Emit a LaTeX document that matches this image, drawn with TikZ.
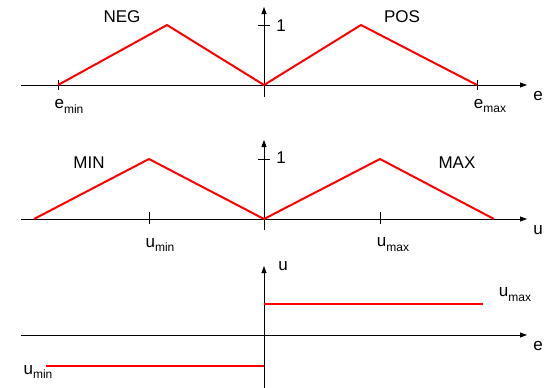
\documentclass[tikz,border=0pt]{standalone}
\usepackage{fontspec}
\setmainfont{Liberation Sans}
\usetikzlibrary{arrows.meta}
\newcommand{\lowsub}[1]{\raisebox{-0.55ex}{\fontsize{12}{12}\selectfont #1}}

\begin{document}
\begin{tikzpicture}[x=1pt, y=-1pt,
        ax/.style={line width=0.8pt, -{Triangle[length=7pt, width=5pt]}},
        tk/.style={line width=0.8pt},
        mf/.style={line width=2pt, red, line join=miter},
        lbl/.style={font=\fontsize{17}{20}\selectfont, inner sep=0pt}]
      \useasboundingbox (0,0) rectangle (546,388);
      % error membership: NEG / POS
      \coordinate (e0) at (21,85); \coordinate (e1) at (527,85);
      \coordinate (m0) at (264,97); \coordinate (m1) at (264,7);
      \draw[ax] (e0) -- (e1); \draw[ax] (m0) -- (m1);
      \coordinate (emin) at (58,85); \coordinate (emax) at (477,85);
      \coordinate (zero1) at (264,85);
      \coordinate (pneg) at (167,25); \coordinate (ppos) at (361,25);
      \draw[tk] (258,25) -- (270,25);
      \draw[tk] ([yshift=-5]emin) -- ([yshift=5]emin);
      \draw[tk] ([yshift=-5]emax) -- ([yshift=5]emax);
      \draw[mf] (emin) -- (pneg) -- (zero1) -- (ppos) -- (emax);
      \node[lbl] (neg) at (122,17) {NEG};
      \node[lbl] (pos) at (402,17) {POS};
      \node[lbl] (one1) at (281,26) {1};
      \node[lbl] (lemin) at (69,106) {e\lowsub{min}};
      \node[lbl] (lemax) at (490,106) {e\lowsub{max}};
      \node[lbl] (le1) at (538,96) {e};
      % output membership: MIN / MAX
      \coordinate (u0) at (21,219); \coordinate (u1) at (527,219);
      \coordinate (n0) at (264,230); \coordinate (n1) at (264,140);
      \draw[ax] (u0) -- (u1); \draw[ax] (n0) -- (n1);
      \coordinate (ua) at (34,219); \coordinate (ub) at (494,219);
      \coordinate (zero2) at (264,219);
      \coordinate (umin) at (149,219); \coordinate (umax) at (380,219);
      \coordinate (pmin) at (149,159); \coordinate (pmax) at (380,159);
      \draw[tk] (258,159) -- (270,159);
      \draw[tk] ([yshift=-5]umin) -- ([yshift=7]umin);
      \draw[tk] ([yshift=-5]umax) -- ([yshift=7]umax);
      \draw[mf] (ua) -- (pmin) -- (zero2) -- (pmax) -- (ub);
      \node[lbl] (min) at (89,163) {MIN};
      \node[lbl] (max) at (457,163) {MAX};
      \node[lbl] (one2) at (281,158) {1};
      \node[lbl] (lumin) at (160,245) {u\lowsub{min}};
      \node[lbl] (lumax) at (393,245) {u\lowsub{max}};
      \node[lbl] (lu1) at (538,230) {u};
      % control law
      \coordinate (c0) at (21,335); \coordinate (c1) at (527,335);
      \coordinate (v0) at (264,388); \coordinate (v1) at (264,266);
      \draw[ax] (c0) -- (c1); \draw[ax] (v0) -- (v1);
      \coordinate (hi0) at (264,304); \coordinate (hi1) at (483,304);
      \coordinate (lo0) at (46,366); \coordinate (lo1) at (264,366);
      \draw[mf] (hi0) -- (hi1);
      \draw[mf] (lo0) -- (lo1);
      \node[lbl] (lu2) at (283,266) {u};
      \node[lbl] (lhi) at (515,295) {u\lowsub{max}};
      \node[lbl] (llo) at (38,372) {u\lowsub{min}};
      \node[lbl] (le2) at (538,346) {e};
\end{tikzpicture}
\end{document}
